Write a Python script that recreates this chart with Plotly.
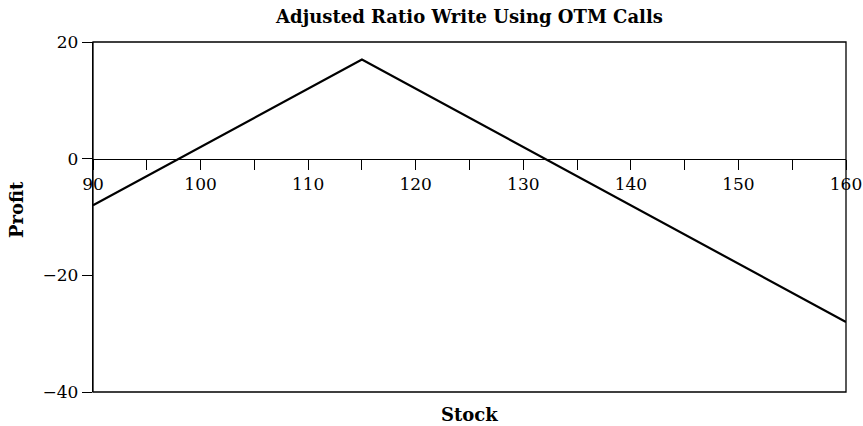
import plotly.graph_objects as go

# Payoff of the adjusted ratio write: stock price vs profit at expiration
stock = [90, 115, 160]
profit = [-8, 17, -28]

x_ticks = [90, 100, 110, 120, 130, 140, 150, 160]
y_ticks = [-40, -20, 0, 20]

FONT = "DejaVu Serif"

fig = go.Figure()
fig.add_trace(go.Scatter(
    x=stock, y=profit, mode="lines",
    line=dict(color="black", width=2.2),
    showlegend=False, hoverinfo="skip",
))

fig.update_layout(
    width=863, height=426,
    margin=dict(l=93, r=17, t=42, b=34, autoexpand=False),
    paper_bgcolor="white", plot_bgcolor="white",
    title=dict(
        text="<b>Adjusted Ratio Write Using OTM Calls</b>",
        x=0.5, xref="paper", xanchor="center",
        y=1 - 17 / 426, yref="container", yanchor="middle",
        font=dict(family=FONT, size=18, color="black"),
    ),
    font=dict(family=FONT, color="black"),
)

# x axis drawn along the zero line, ticks hanging below it
fig.update_xaxes(
    range=[90, 160], anchor="free", position=2 / 3, automargin=False,
    showline=True, linecolor="black", linewidth=1.3,
    showgrid=False, zeroline=False,
    tickmode="array", tickvals=x_ticks,
    ticks="outside", ticklen=10, tickwidth=1.1, tickcolor="black",
    tickfont=dict(family=FONT, size=17, color="black"),
    minor=dict(dtick=5, tick0=90, ticks="outside", ticklen=10,
               tickwidth=1.1, tickcolor="black", showgrid=False),
)

fig.update_yaxes(
    range=[-40, 20], automargin=False,
    showline=True, linecolor="black", linewidth=1.3,
    showgrid=False, zeroline=False,
    tickmode="array", tickvals=y_ticks,
    ticks="outside", ticklen=10, tickwidth=1.1, tickcolor="black",
    tickfont=dict(family=FONT, size=17, color="black"),
)

# Frame around the plotting area
fig.add_shape(type="rect", xref="x domain", yref="y domain",
              x0=0, x1=1, y0=0, y1=1,
              line=dict(color="black", width=1.3), layer="below")

# Axis titles
fig.add_annotation(text="<b>Stock</b>", xref="paper", yref="paper",
                   x=0.5, y=-23 / 350, xanchor="center", yanchor="middle",
                   showarrow=False,
                   font=dict(family=FONT, size=18, color="black"))
fig.add_annotation(text="<b>Profit</b>", xref="paper", yref="paper",
                   x=-77 / 753, y=(392 - 210) / 350, xanchor="center", yanchor="middle",
                   textangle=-90, showarrow=False,
                   font=dict(family=FONT, size=18, color="black"))

fig.write_html("out.html")
